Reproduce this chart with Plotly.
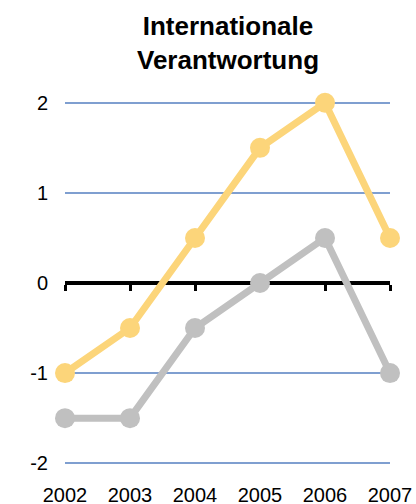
import plotly.graph_objects as go

# ----------------------------------------------------------------------------
# Data
# ----------------------------------------------------------------------------
years = ["2002", "2003", "2004", "2005", "2006", "2007"]
series_gold = [-1, -0.5, 0.5, 1.5, 2, 0.5]
series_grey = [-1.5, -1.5, -0.5, 0, 0.5, -1]
y_ticks = [-2, -1, 0, 1, 2]
y_labels = ["-2", "-1", "0", "1", "2"]

FONT = "Arial, Liberation Sans, sans-serif"

fig = go.Figure()

fig.add_trace(go.Scatter(
    x=years, y=series_gold, mode="lines+markers",
    line=dict(color="#FCD57A", width=7),
    marker=dict(color="#FCD57A", size=20),
    cliponaxis=False, name="A"
))
fig.add_trace(go.Scatter(
    x=years, y=series_grey, mode="lines+markers",
    line=dict(color="#C0C0C0", width=7),
    marker=dict(color="#C0C0C0", size=20),
    cliponaxis=False, name="B"
))
# empty trace so the zero-line axis (x2) gets drawn
fig.add_trace(go.Scatter(
    x=[None], y=[None], xaxis="x2", yaxis="y",
    showlegend=False, hoverinfo="skip"
))

fig.update_layout(
    width=416, height=504,
    paper_bgcolor="white", plot_bgcolor="white",
    showlegend=False,
    margin=dict(l=65, r=26, t=101, b=39),
    font=dict(family=FONT, size=20, color="black"),
    xaxis=dict(
        type="category", range=[0, 5], automargin=False,
        showgrid=False, zeroline=False, showline=False,
        ticks="outside", ticklen=12, tickcolor="rgba(0,0,0,0)",
    ),
    xaxis2=dict(
        overlaying="x", anchor="free", position=0.5,
        range=[0, 5], tick0=0, dtick=1, automargin=False,
        showgrid=False, zeroline=False,
        showline=True, linecolor="black", linewidth=4,
        ticks="outside", ticklen=6, tickwidth=3, tickcolor="black",
        showticklabels=False, layer="below traces",
    ),
    yaxis=dict(
        range=[-2.02, 2.02], tickvals=y_ticks, ticktext=y_labels,
        automargin=False,
        showgrid=True, gridcolor="#7F9FD0", gridwidth=2,
        zeroline=False, showline=False,
        ticks="outside", ticklen=12, tickcolor="rgba(0,0,0,0)",
    ),
    annotations=[dict(
        text="<b>Internationale<br>Verantwortung</b>",
        xref="paper", x=0.5, xanchor="center",
        yref="paper", y=1, yanchor="bottom", yshift=24,
        showarrow=False,
        font=dict(family=FONT, size=26, color="black"),
    )],
)

fig.write_html("out.html", config={"displayModeBar": False},
               post_script="document.body.style.margin='0';")
